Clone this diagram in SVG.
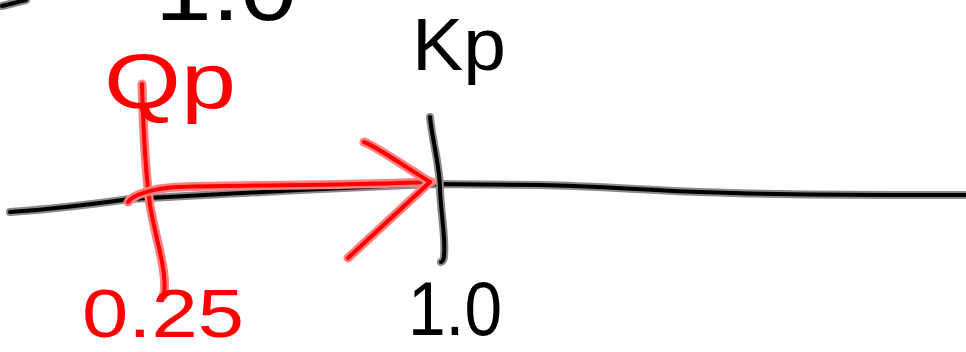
<svg xmlns="http://www.w3.org/2000/svg" width="966" height="352" viewBox="0 0 966 352">
<style>
.bh{fill:none;stroke:#8a8a8a;stroke-width:8;stroke-linecap:round;stroke-linejoin:round}
.bk{fill:none;stroke:#000;stroke-width:4;stroke-linecap:round;stroke-linejoin:round}
.rh{fill:none;stroke:#ff8080;stroke-width:9;stroke-linecap:round;stroke-linejoin:round}
.rd{fill:none;stroke:#ff0000;stroke-width:4;stroke-linecap:round;stroke-linejoin:round}
.tb{font-family:"Liberation Sans",Arial,sans-serif;fill:#000}
.tr{font-family:"Liberation Sans",Arial,sans-serif;fill:#ff0000}
</style>
<rect width="966" height="352" fill="#fff"/>
<g id="top-stroke">
<path class="bh" d="M2,6 Q14,3 26,0"/>
<path class="bk" d="M2,6 Q14,3 26,0"/>
</g>
<g id="label-top">
<text class="tb" x="155" y="20" font-size="90" textLength="142" lengthAdjust="spacingAndGlyphs">1.0</text>
</g>
<g id="axis">
<path class="bh" d="M10,212 C40,210 80,206 130,199 L300,190 L430,184 L540,185 C600,186 640,190 700,192 C760,194 800,195 966,195"/>
<path class="bk" d="M10,212 C40,210 80,206 130,199 L300,190 L430,184 L540,185 C600,186 640,190 700,192 C760,194 800,195 966,195"/>
</g>
<g id="tick-kp">
<path class="bh" d="M430,117 C432,140 440,165 440,190 C441,215 446,240 444,256 C444,260 442,262 441,262"/>
<path class="bk" d="M430,117 C432,140 440,165 440,190 C441,215 446,240 444,256 C444,260 442,262 441,262"/>
</g>
<g id="label-kp">
<text class="tb" x="412" y="70" font-size="74" textLength="94" lengthAdjust="spacingAndGlyphs">Kp</text>
</g>
<g id="label-1-0">
<text class="tb" x="408" y="335" font-size="76" textLength="94" lengthAdjust="spacingAndGlyphs">1.0</text>
</g>
<g id="qp-marker">
<path class="rh" d="M142,84 C143,120 145,170 150,205 C155,235 162,255 164,275 C165,285 165,292 163,296"/>
<path class="rd" d="M142,84 C143,120 145,170 150,205 C155,235 162,255 164,275 C165,285 165,292 163,296"/>
</g>
<g id="label-qp">
<text class="tr" x="104" y="108" font-size="78" textLength="132" lengthAdjust="spacingAndGlyphs">Qp</text>
</g>
<g id="label-025">
<text class="tr" x="82" y="337" font-size="68" textLength="162" lengthAdjust="spacingAndGlyphs">0.25</text>
</g>
<g id="connectors">
<path class="rh" d="M128,202 C132,196 150,188 180,187 C230,185 300,186 400,183 L432,182"/>
<path class="rd" d="M128,202 C132,196 150,188 180,187 C230,185 300,186 400,183 L432,182"/>
<path class="rh" d="M364,142 C375,146 395,160 430,182 L348,258" stroke-width="12"/>
<path class="rd" d="M364,142 C375,146 395,160 430,182 L348,258" stroke-width="6"/>
</g>
</svg>
